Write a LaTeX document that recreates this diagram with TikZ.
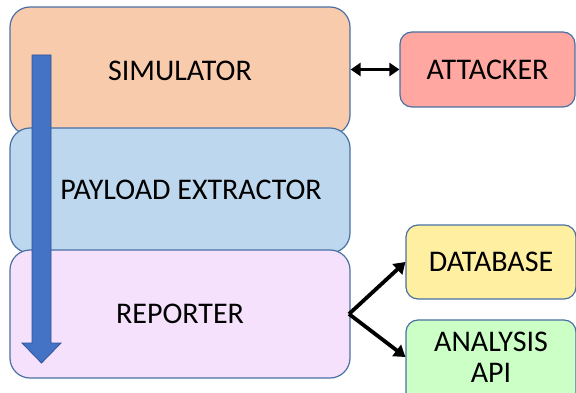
\documentclass[tikz,border=0pt]{standalone}
\usepackage{fontspec}
\setmainfont{Carlito}
\usetikzlibrary{arrows.meta}
\definecolor{bordc}{HTML}{4A70A3}
\definecolor{simc}{HTML}{F8CBAD}
\definecolor{payc}{HTML}{BDD7EE}
\definecolor{repc}{HTML}{F5E1FC}
\definecolor{attc}{HTML}{FFA7A0}
\definecolor{datc}{HTML}{FFEFA0}
\definecolor{anac}{HTML}{CCFFC6}
\definecolor{flowc}{HTML}{4472C4}
\definecolor{flowd}{HTML}{2F5597}
\tikzset{lbl/.style={font=\fontsize{30}{32}\selectfont, text=black}}
\begin{document}
\begin{tikzpicture}[x=1pt,y=-1pt,
  box/.style={draw=bordc, line width=1.2pt, rounded corners=20pt, inner sep=0pt, lbl},
  small/.style={box, rounded corners=12pt},
  link/.style={draw=black, line width=3.8pt, -{Triangle[length=11pt,width=14pt]}}
]
\useasboundingbox (0,0) rectangle (576,393);
\node[box, fill=simc, minimum width=340pt, minimum height=128pt] (sim) at (180,71) {};
\node[box, fill=payc, minimum width=340pt, minimum height=125pt] (pay) at (180,190.5) {};
\node[box, fill=repc, minimum width=340pt, minimum height=128pt] (rep) at (180,314) {};
\node[lbl] (simt) at (180,71) {SIMULATOR};
\node[lbl] (payt) at (191,190) {PAYLOAD EXTRACTOR};
\node[lbl] (rept) at (180,314) {REPORTER};
\node[small, fill=attc, minimum width=175pt, minimum height=75pt] (att) at (487.5,69.5) {ATTACKER};
\node[small, fill=datc, minimum width=170pt, minimum height=74pt] (dat) at (491,262) {DATABASE};
\node[small, fill=anac, minimum width=170pt, minimum height=100pt] (ana) at (491,370) {};
\node[lbl, align=center] (anat) at (491,357) {ANALYSIS\\[-1pt]API};
% flow arrow
\draw[fill=flowc, draw=flowd, line width=0.8pt]
  (32,55) -- (51,55) -- (51,343) -- (61,343) -- (41.5,363) -- (22,343) -- (32,343) -- cycle;
% connectors
\coordinate (rs) at (349,314);
\draw[draw=black, line width=3.6pt, {Triangle[length=10pt,width=13pt]}-{Triangle[length=10pt,width=13pt]}] (sim.east |- att.west) -- (att.west);
\draw[link] (rs) -- (dat.west);
\draw[link] (rs) -- (ana.west |- 0,357);
\end{tikzpicture}
\end{document}
